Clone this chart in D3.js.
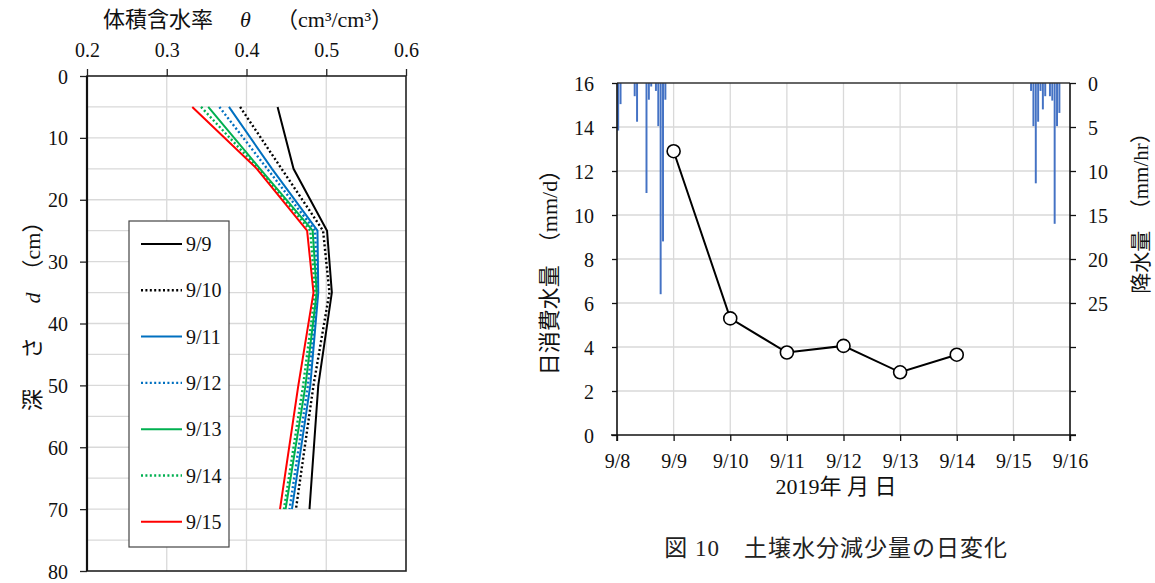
<!DOCTYPE html>
<html><head><meta charset="utf-8">
<script src="https://cdn.jsdelivr.net/npm/d3@7"></script>
<style>
body{margin:0;background:#fff;}
svg{display:block;font-family:"Liberation Serif","Noto Sans CJK JP",serif;}
</style></head>
<body><svg id="c" width="1155" height="583"></svg>
<script>
// ---------- DATA ----------
// Left chart: soil moisture profiles
const depths = [5, 15, 25, 35, 50, 70];
const profileDates = ["9/9", "9/10", "9/11", "9/12", "9/13", "9/14", "9/15"];
const theta_9_9  = [0.439, 0.459, 0.501, 0.507, 0.490, 0.479];
const theta_9_10 = [0.392, 0.444, 0.496, 0.504, 0.484, 0.462];
const theta_9_11 = [0.378, 0.432, 0.489, 0.490, 0.480, 0.457];
const theta_9_12 = [0.366, 0.426, 0.486, 0.489, 0.477, 0.454];
const theta_9_13 = [0.352, 0.417, 0.483, 0.488, 0.474, 0.449];
const theta_9_14 = [0.343, 0.415, 0.480, 0.486, 0.471, 0.447];
const theta_9_15 = [0.332, 0.413, 0.476, 0.484, 0.465, 0.442];
const thetaTicks = [0.2, 0.3, 0.4, 0.5, 0.6];
const depthTicks = [0, 10, 20, 30, 40, 50, 60, 70, 80];

// Right chart: daily water consumption
const days = ["2019-09-09", "2019-09-10", "2019-09-11", "2019-09-12", "2019-09-13", "2019-09-14"];
const consumption = [12.9, 5.3, 3.75, 4.05, 2.85, 3.65];
const dayTicks = ["2019-09-08","2019-09-09","2019-09-10","2019-09-11","2019-09-12","2019-09-13","2019-09-14","2019-09-15","2019-09-16"];
const dayTickLabels = ["9/8","9/9","9/10","9/11","9/12","9/13","9/14","9/15","9/16"];
const consTicks = [0, 2, 4, 6, 8, 10, 12, 14, 16];
const rainTicks = [0, 5, 10, 15, 20, 25, 30, 35, 40];
const rainTickLabels = ["0","5","10","15","20","25","","",""];
// Hourly rainfall (mm/hr)
const rainDay1 = "2019-09-08";
const rainHours1 = [0, 1, 7, 8, 12, 13, 14, 16, 17, 18, 19, 20];
const rainVals1  = [5.4, 2.4, 1.5, 4.4, 12.5, 1.9, 0.4, 0.9, 4.9, 24, 18, 1.9];
const rainDay2 = "2019-09-15";
const rainHours2 = [7, 8, 9, 10, 11, 12, 13, 15, 16, 17, 18, 19];
const rainVals2  = [0.9, 4.9, 11.4, 4.4, 0.9, 3.0, 1.5, 1.5, 2.0, 16, 4.9, 3.4];

// ---------- DRAW ----------
const svg = d3.select("#c");
const FS = 20;
const TF = 22;
const grid = "#d9d9d9";
const SERIF = "Liberation Serif";

// ===== Left chart =====
const xL = d3.scaleLinear().domain([0.2, 0.6]).range([87, 406]);
const yL = d3.scaleLinear().domain([0, 80]).range([76, 571]);
const gL = svg.append("g");

gL.selectAll(".vg").data(thetaTicks.slice(1, -1)).join("line")
  .attr("x1", d => xL(d)).attr("x2", d => xL(d)).attr("y1", yL(0)).attr("y2", yL(80))
  .attr("stroke", grid).attr("stroke-width", 1.3);
gL.selectAll(".hg").data(d3.range(5, 80, 5)).join("line")
  .attr("x1", xL(0.2)).attr("x2", xL(0.6)).attr("y1", d => yL(d)).attr("y2", d => yL(d))
  .attr("stroke", grid).attr("stroke-width", 1.3);

const topAx = d3.axisTop(xL).tickValues(thetaTicks).tickSize(7).tickFormat(d3.format(".1f"));
const gTop = gL.append("g").attr("transform", `translate(0,${yL(0)})`).call(topAx);
const leftAx = d3.axisLeft(yL).tickValues(depthTicks).tickSize(7).tickFormat(d3.format("d"));
const gLeft = gL.append("g").attr("transform", `translate(${xL(0.2)},0)`).call(leftAx);
[gTop, gLeft].forEach(g => {
  g.attr("font-family", SERIF);
  g.select(".domain").remove();
  g.selectAll(".tick line").attr("stroke", "#222").attr("stroke-width", 1.3);
  g.selectAll(".tick text").attr("font-size", FS).attr("fill", "#111").attr("font-family", SERIF);
});
gTop.selectAll(".tick text").attr("y", -26).attr("dy", "0.35em");
gLeft.selectAll(".tick text").attr("x", -19).attr("dy", "0.35em");

gL.append("rect").attr("x", xL(0.2)).attr("y", yL(0)).attr("width", xL(0.6) - xL(0.2))
  .attr("height", yL(80) - yL(0)).attr("fill", "none").attr("stroke", "#222").attr("stroke-width", 1.6);
gL.append("line").attr("x1", xL(0.2)).attr("x2", xL(0.2)).attr("y1", yL(0)).attr("y2", yL(80))
  .attr("stroke", "#111").attr("stroke-width", 2.2);

const profiles = [theta_9_9, theta_9_10, theta_9_11, theta_9_12, theta_9_13, theta_9_14, theta_9_15];
const colors = ["#000000", "#000000", "#0070C0", "#0070C0", "#00B050", "#00B050", "#FF0000"];
const dashed = [false, true, false, true, false, true, false];
const lineL = d3.line().x(d => xL(d[0])).y(d => yL(d[1]));
profiles.forEach((p, i) => {
  gL.append("path").datum(p.map((v, j) => [v, depths[j]]))
    .attr("d", lineL).attr("fill", "none").attr("stroke", colors[i])
    .attr("stroke-width", dashed[i] ? 2.4 : 2)
    .attr("stroke-dasharray", dashed[i] ? "2,2.4" : null);
});

// legend
const lg = gL.append("g");
lg.append("rect").attr("x", 129).attr("y", 221).attr("width", 100).attr("height", 326)
  .attr("fill", "#fff").attr("stroke", "#444").attr("stroke-width", 1.2);
profileDates.forEach((d, i) => {
  const yy = 244 + i * 46.3;
  lg.append("line").attr("x1", 141).attr("x2", 182).attr("y1", yy).attr("y2", yy)
    .attr("stroke", colors[i]).attr("stroke-width", dashed[i] ? 2.4 : 2)
    .attr("stroke-dasharray", dashed[i] ? "2,2.4" : null);
  lg.append("text").attr("x", 186).attr("y", yy).attr("dy", "0.35em")
    .attr("font-size", FS).attr("font-family", SERIF).attr("fill", "#111").text(d);
});

// top title
svg.append("text").attr("x", 103).attr("y", 27).attr("font-size", TF).attr("fill", "#111").text("体積含水率");
svg.append("text").attr("x", 240).attr("y", 27).attr("font-size", TF).attr("font-style", "italic")
  .attr("font-family", SERIF).attr("fill", "#111").text("θ");
svg.append("text").attr("x", 276).attr("y", 27).attr("font-size", TF).attr("fill", "#111").text("（cm³/cm³）");

// left axis title (vertical, pieces placed along the axis)
const yTitleParts = [
  { t: "深", c: 400, it: false },
  { t: "さ", c: 348, it: false },
  { t: "d", c: 298, it: true },
  { t: "（cm）", c: 246, it: false }
];
yTitleParts.forEach(p => {
  svg.append("text").attr("transform", `translate(40,${p.c}) rotate(-90)`)
    .attr("text-anchor", "middle").attr("font-size", TF)
    .attr("font-style", p.it ? "italic" : null)
    .attr("font-family", p.it ? SERIF : null)
    .attr("fill", "#111").text(p.t);
});

// ===== Right chart =====
const parse = d3.utcParse("%Y-%m-%d");
const xR = d3.scaleUtc().domain([parse("2019-09-08"), parse("2019-09-16")]).range([617, 1070]);
const yR = d3.scaleLinear().domain([0, 16]).range([435, 83]);
const yRain = d3.scaleLinear().domain([0, 40]).range([83, 435]);
const gR = svg.append("g");

gR.selectAll(".vg").data(dayTicks.slice(1, -1).map(parse)).join("line")
  .attr("x1", d => xR(d)).attr("x2", d => xR(d)).attr("y1", yR(0)).attr("y2", yR(16))
  .attr("stroke", grid).attr("stroke-width", 1.3);
gR.selectAll(".hg").data(consTicks.slice(1, -1)).join("line")
  .attr("x1", xR.range()[0]).attr("x2", xR.range()[1]).attr("y1", d => yR(d)).attr("y2", d => yR(d))
  .attr("stroke", grid).attr("stroke-width", 1.3);

// rain bars
const hourW = (xR(parse("2019-09-09")) - xR(parse("2019-09-08"))) / 24;
function rainBars(day, hours, vals) {
  const base = parse(day);
  gR.append("g").selectAll("rect").data(hours.map((h, i) => ({ t: d3.utcHour.offset(base, h), v: vals[i] })))
    .join("rect")
    .attr("x", d => xR(d.t) + 0.2).attr("width", hourW - 0.4)
    .attr("y", yRain(0)).attr("height", d => yRain(d.v) - yRain(0))
    .attr("fill", "#4472C4");
}
rainBars(rainDay1, rainHours1, rainVals1);
rainBars(rainDay2, rainHours2, rainVals2);

const axB = d3.axisBottom(xR).tickValues(dayTicks.map(parse)).tickSize(6)
  .tickFormat((d, i) => dayTickLabels[i]);
const gB = gR.append("g").attr("transform", `translate(0,${yR(0)})`).call(axB);
const axLR = d3.axisLeft(yR).tickValues(consTicks).tickSize(5).tickFormat(d3.format("d"));
const gLR = gR.append("g").attr("transform", `translate(${xR.range()[0]},0)`).call(axLR);
const axRR = d3.axisRight(yRain).tickValues(rainTicks).tickSize(6).tickFormat((d, i) => rainTickLabels[i]);
const gRR = gR.append("g").attr("transform", `translate(${xR.range()[1]},0)`).call(axRR);
[gB, gLR, gRR].forEach(g => {
  g.attr("font-family", SERIF);
  g.select(".domain").remove();
  g.selectAll(".tick line").attr("stroke", "#111").attr("stroke-width", 1.3);
  g.selectAll(".tick text").attr("font-size", FS).attr("fill", "#111").attr("font-family", SERIF);
});
gB.selectAll(".tick text").attr("y", 26).attr("dy", "0.35em");
gLR.selectAll(".tick text").attr("x", -23).attr("dy", "0.35em");
gRR.selectAll(".tick text").attr("x", 18).attr("dy", "0.35em");

gR.append("line").attr("x1", 617).attr("x2", 1070).attr("y1", yR(16)).attr("y2", yR(16))
  .attr("stroke", "#333").attr("stroke-width", 1.3);
gR.append("line").attr("x1", 611).attr("x2", 1076).attr("y1", yR(0)).attr("y2", yR(0))
  .attr("stroke", "#111").attr("stroke-width", 1.6);
gR.append("line").attr("x1", 617).attr("x2", 617).attr("y1", yR(16)).attr("y2", yR(0) + 6)
  .attr("stroke", "#111").attr("stroke-width", 1.6);
gR.append("line").attr("x1", 1070).attr("x2", 1070).attr("y1", yR(16)).attr("y2", yR(0) + 6)
  .attr("stroke", "#111").attr("stroke-width", 1.6);

const pts = days.map((d, i) => [parse(d), consumption[i]]);
gR.append("path").datum(pts).attr("d", d3.line().x(d => xR(d[0])).y(d => yR(d[1])))
  .attr("fill", "none").attr("stroke", "#000").attr("stroke-width", 2);
gR.selectAll("circle").data(pts).join("circle")
  .attr("cx", d => xR(d[0])).attr("cy", d => yR(d[1])).attr("r", 6.5)
  .attr("fill", "#fff").attr("stroke", "#000").attr("stroke-width", 1.6);

svg.append("text").attr("transform", "translate(557,267) rotate(-90)").attr("text-anchor", "middle")
  .attr("font-size", TF).attr("fill", "#111").text("日消費水量　（mm/d）");
svg.append("text").attr("transform", "translate(1148,208) rotate(-90)").attr("text-anchor", "middle")
  .attr("font-size", 21).attr("fill", "#111").text("降水量　（mm/hr）");
svg.append("text").attr("x", 836).attr("y", 494).attr("text-anchor", "middle")
  .attr("font-size", TF).attr("fill", "#111").text("2019年 月 日");
svg.append("text").attr("x", 836).attr("y", 556).attr("text-anchor", "middle")
  .attr("font-size", 23).attr("letter-spacing", 1).attr("fill", "#222").text("図 10　土壌水分減少量の日変化");
</script></body></html>
